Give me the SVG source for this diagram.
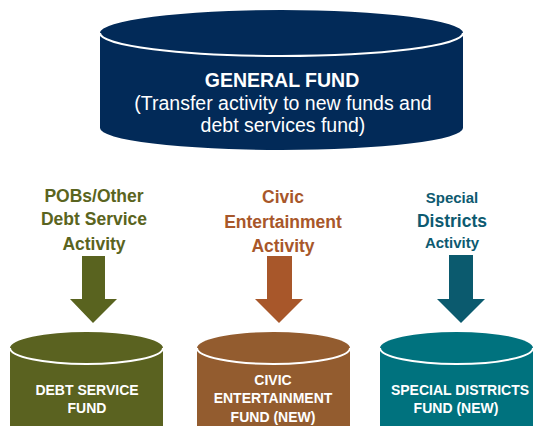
<svg xmlns="http://www.w3.org/2000/svg" width="534" height="426" viewBox="0 0 534 426">
<style>
  .t { font-family: "Liberation Sans", Arial, sans-serif; text-anchor: middle; }
  .w { fill: #ffffff; }
  .b { font-weight: bold; }
  .rim { fill: none; stroke: #ffffff; stroke-width: 2; }
  .olive { fill: #5a6420; }
  .rust { fill: #a8572a; }
  .teal { fill: #0d5a70; }
</style>
<rect width="534" height="426" fill="#ffffff"/>
<g id="general-fund">
  <path d="M100,33 A181.5,23 0 0 1 463,33 L463,128 A181.5,22 0 0 1 100,128 Z" fill="#022a58"/>
  <path class="rim" d="M100,33 A181.5,23 0 0 0 463,33"/>
  <text class="t w b" x="282" y="87" font-size="19.5">GENERAL FUND</text>
  <text class="t w" x="283" y="110" font-size="19.5">(Transfer activity to new funds and</text>
  <text class="t w" x="283" y="132" font-size="19.5">debt services fund)</text>
</g>
<g id="pobs-activity">
  <text class="t b olive" x="94" y="202" font-size="17.5">POBs/Other</text>
  <text class="t b olive" x="94" y="225" font-size="17.5">Debt Service</text>
  <text class="t b olive" x="94" y="250" font-size="17.5">Activity</text>
</g>
<g id="civic-activity">
  <text class="t b rust" x="283" y="203" font-size="17.5">Civic</text>
  <text class="t b rust" x="283" y="228" font-size="17.5">Entertainment</text>
  <text class="t b rust" x="283" y="252" font-size="17.5">Activity</text>
</g>
<g id="special-activity">
  <text class="t b teal" x="452" y="203" font-size="15">Special</text>
  <text class="t b teal" x="452" y="227" font-size="17.5">Districts</text>
  <text class="t b teal" x="452" y="248" font-size="15">Activity</text>
</g>
<g id="connectors">
  <polygon fill="#59631f" points="82,256 105,256 105,299 117,299 93,323 70,299 82,299"/>
  <polygon fill="#a8572a" points="267,256 292,256 292,299 303,299 279,323 255,299 267,299"/>
  <polygon fill="#0b5a6e" points="449,255 473,255 473,299 485,299 461,323 437,299 449,299"/>
</g>
<g id="debt-service-fund">
  <path d="M10,348 A76.5,16 0 0 1 163,348 L163,440 L10,440 Z" fill="#5a6220"/>
  <path class="rim" d="M10,348 A76.5,16 0 0 0 163,348"/>
  <text class="t w b" x="87" y="395" font-size="14">DEBT SERVICE</text>
  <text class="t w b" x="87" y="413" font-size="14">FUND</text>
</g>
<g id="civic-fund">
  <path d="M197,348 A76.5,16 0 0 1 350,348 L350,440 L197,440 Z" fill="#935c2f"/>
  <path class="rim" d="M197,348 A76.5,16 0 0 0 350,348"/>
  <text class="t w b" x="273" y="385" font-size="14">CIVIC</text>
  <text class="t w b" x="273" y="403" font-size="14">ENTERTAINMENT</text>
  <text class="t w b" x="273" y="422" font-size="14">FUND (NEW)</text>
</g>
<g id="special-fund">
  <path d="M380,348 A76.5,16 0 0 1 533,348 L533,440 L380,440 Z" fill="#00727e"/>
  <path class="rim" d="M380,348 A76.5,16 0 0 0 533,348"/>
  <text class="t w b" x="460" y="395" font-size="14">SPECIAL DISTRICTS</text>
  <text class="t w b" x="456" y="413" font-size="14">FUND (NEW)</text>
</g>
</svg>
